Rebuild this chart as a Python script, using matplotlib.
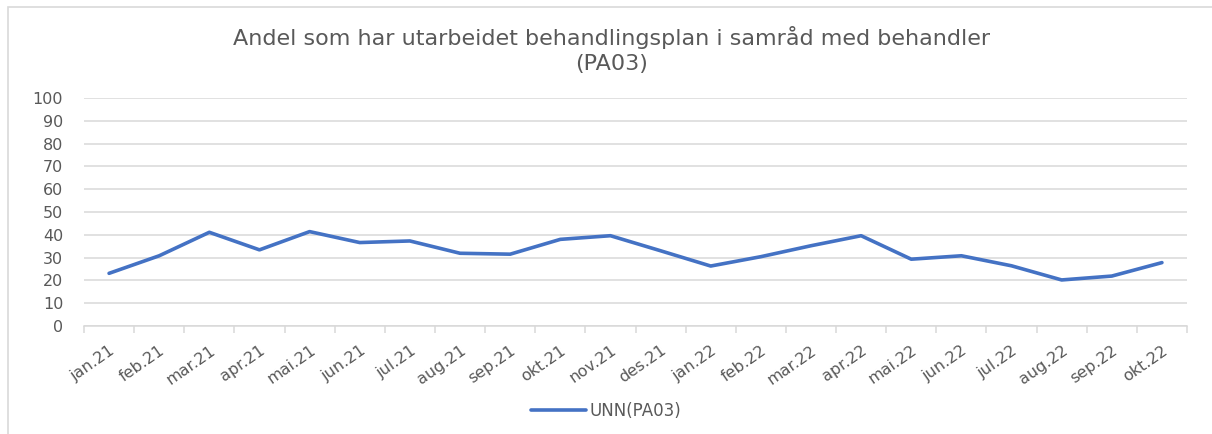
import matplotlib.pyplot as plt
from matplotlib.patches import Rectangle

months = ['jan.21', 'feb.21', 'mar.21', 'apr.21', 'mai.21', 'jun.21', 'jul.21',
          'aug.21', 'sep.21', 'okt.21', 'nov.21', 'des.21', 'jan.22', 'feb.22',
          'mar.22', 'apr.22', 'mai.22', 'jun.22', 'jul.22', 'aug.22', 'sep.22', 'okt.22']
unn_pa03 = [23.1, 30.8, 41.1, 33.4, 41.4, 36.6, 37.3, 31.9, 31.5, 38.0, 39.6,
            33.0, 26.3, 30.4, 35.2, 39.6, 29.3, 30.8, 26.4, 20.2, 21.9, 27.8]
yticks = list(range(0, 101, 10))

plt.rcParams['font.family'] = ['DejaVu Sans']
grey = '#595959'
gridc = '#D9D9D9'

fig = plt.figure(figsize=(12.12, 4.34), dpi=100)
ax = fig.add_axes([84 / 1212, 1 - 326 / 434, (1187 - 84) / 1212, (326 - 98) / 434])

x = list(range(len(months)))
ax.plot(x, unn_pa03, color='#4472C4', linewidth=2.6, solid_capstyle='round',
        label='UNN(PA03)')

ax.set_xlim(-0.5, len(months) - 0.5)
ax.set_ylim(0, 100)
ax.set_yticks(yticks)
ax.yaxis.grid(True, color=gridc, linewidth=1.1)
ax.set_axisbelow(True)
ax.tick_params(axis='y', length=0, labelsize=11.5, labelcolor=grey, pad=15)

# Category labels centered, tick marks between categories
ax.set_xticks(x)
ax.set_xticklabels(months, rotation=35, ha='right', rotation_mode='anchor',
                   fontsize=11.5, color=grey)
ax.tick_params(axis='x', which='major', length=0, pad=12)
ax.set_xticks([i - 0.5 for i in range(len(months) + 1)], minor=True)
ax.tick_params(axis='x', which='minor', length=5, color=gridc, width=1.1)

for s in ['top', 'right', 'left']:
    ax.spines[s].set_visible(False)
ax.spines['bottom'].set_color(gridc)
ax.spines['bottom'].set_linewidth(1.1)

fig.text(612 / 1212, 1 - 50 / 434,
         'Andel som har utarbeidet behandlingsplan i samråd med behandler\n(PA03)',
         ha='center', va='center', fontsize=16, color=grey, linespacing=1.35)

fig.legend(loc='center', bbox_to_anchor=(606 / 1212, 1 - 411 / 434), frameon=False,
           fontsize=12, labelcolor=grey, handlelength=3.3, handletextpad=0.25)

fig.patches.append(Rectangle((8 / 1212, -0.1), 1.2, 1.1 - 7 / 434,
                             transform=fig.transFigure, fill=False,
                             edgecolor='#D9D9D9', linewidth=1.2))

fig.savefig('out.png', dpi=100)
